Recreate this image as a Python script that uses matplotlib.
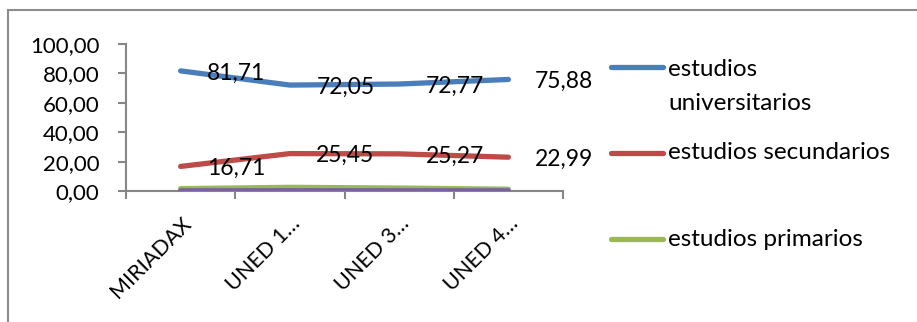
import matplotlib
matplotlib.use("Agg")
import matplotlib.pyplot as plt
from matplotlib.lines import Line2D
from matplotlib.patches import Rectangle

plt.rcParams['font.family'] = ['Lato', 'DejaVu Sans']

categories = ["MIRIADAX", "UNED 1…", "UNED 3…", "UNED 4…"]
universitarios = [81.71, 72.05, 72.77, 75.88]
secundarios = [16.71, 25.45, 25.27, 22.99]
primarios = [1.6, 2.5, 2.0, 1.2]
otros = [0.1, 0.2, 0.15, 0.1]
series_names = ["estudios\nuniversitarios", "estudios secundarios", "estudios primarios"]
yticks = [0, 20, 40, 60, 80, 100]

W, H = 917, 322
fig = plt.figure(figsize=(W / 100, H / 100), dpi=100)
fig.patch.set_facecolor("white")

def fx(px):
    return px / W

def fy(py):
    return 1 - py / H

ax = fig.add_axes([fx(126), fy(191), fx(563) - fx(126), fy(44) - fy(191)])
x = list(range(len(categories)))

colors = ["#4A7EBB", "#BE4B48", "#98B954", "#7D60A0"]
lw = 3.8
ax.plot(x, otros, color=colors[3], lw=lw, solid_capstyle="round", zorder=3)
ax.plot(x, primarios, color=colors[2], lw=lw, solid_capstyle="round", zorder=2)
ax.plot(x, secundarios, color=colors[1], lw=lw, solid_capstyle="round", zorder=3)
ax.plot(x, universitarios, color=colors[0], lw=lw, solid_capstyle="round", zorder=3)

for vals in (universitarios, secundarios):
    for xi, v in zip(x, vals):
        ax.annotate(f"{v:.2f}".replace(".", ","), (xi, v), xytext=(19, -1.5),
                    textcoords="offset points", ha="left", va="center",
                    fontsize=16.5, color="black", zorder=5)

ax.set_xlim(-0.5, len(categories) - 0.5)
ax.set_ylim(0, 100)
ax.set_yticks(yticks)
ax.set_yticklabels([f"{v:.2f}".replace(".", ",") for v in yticks], fontsize=16)
ax.set_xticks(x)
ax.set_xticklabels(categories, fontsize=15.5, rotation=45, ha="right",
                   rotation_mode="anchor")
ax.set_xticks([i + 0.5 for i in range(-1, len(categories))], minor=True)

gray = "#868686"
for s in ("top", "right"):
    ax.spines[s].set_visible(False)
for s in ("left", "bottom"):
    ax.spines[s].set_color(gray)
    ax.spines[s].set_linewidth(1.5)
ax.tick_params(axis="y", direction="out", length=6, width=1.5, color=gray, pad=13)
ax.tick_params(axis="x", which="major", length=0, pad=16)
ax.tick_params(axis="x", which="minor", direction="out", length=6, width=1.5, color=gray)

# legend
leg_rows = [(67, [70, 103]), (153, [153]), (239, [240])]
texts_lines = [["estudios", "universitarios"], ["estudios secundarios"], ["estudios primarios"]]
for (ly, tys), c, tl in zip(leg_rows, colors[:3], texts_lines):
    fig.add_artist(Line2D([fx(611), fx(663)], [fy(ly), fy(ly)], color=c, lw=lw,
                          solid_capstyle="round", transform=fig.transFigure))
    for ty, t in zip(tys, tl):
        fig.text(fx(668), fy(ty), t, fontsize=17.5, ha="left", va="center")

# chart border
fig.add_artist(Rectangle((fx(8), fy(330)), 2, fy(10) - fy(330), fill=False,
                         edgecolor="#8C8C8C", lw=1.5, transform=fig.transFigure))

fig.savefig("out.png", dpi=100, facecolor="white")
